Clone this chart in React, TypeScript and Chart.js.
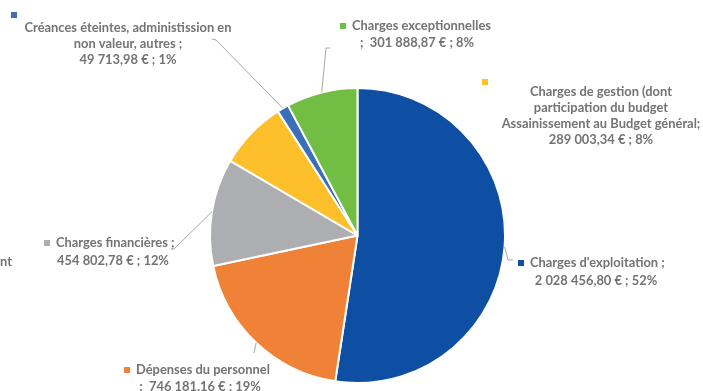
import React, { useEffect, useRef } from "react";
import { Chart, registerables } from "chart.js";

Chart.register(...registerables);

const categories = [
  "Charges d'exploitation",
  "Dépenses du personnel",
  "Charges financières",
  "Charges de gestion",
  "Créances éteintes",
  "Charges exceptionnelles",
];
const values = [2028456.8, 746181.16, 454802.78, 289003.34, 49713.98, 301888.87];
const colors = ["#0E4FA3", "#F08237", "#ADAEB2", "#FDBF2A", "#3B6FB8", "#72BE44"];

const labelLines: string[][] = [
  ["Charges d'exploitation ;", "2 028 456,80 € ; 52%"],
  ["Dépenses du personnel", ";  746 181.16 € ; 19%"],
  ["Charges financières ;", "454 802,78 € ; 12%"],
  ["Charges de gestion (dont", "participation du budget", "Assainissement au Budget général;", "289 003,34 € ; 8%"],
  ["Créances éteintes, administission en", "non valeur, autres ;", "49 713,98 € ; 1%"],
  ["Charges exceptionnelles", ";  301 888,87 € ; 8%"],
];

// label box layout: keyX = left of inline key (first line), cx = centre of other lines
const labelLayout: any[] = [
  { keyX: 518, cx: 596, y: 263, lh: 18, leader: [[508, 260], [513, 260]] },
  { keyX: 124, cx: 200, y: 370, lh: 17, leader: [[254, 353]] },
  { keyX: 44, cx: 113, y: 243, lh: 18, leader: [[174, 249], [171, 249]] },
  { cx: 601, y: 92, lh: 16, key: [485, 82], leader: [] },
  { cx: 128, y: 28, lh: 16, key: [14, 15], leader: [[216, 40], [212, 39]] },
  { keyX: 340, cx: 417, y: 26, lh: 17, leader: [[326, 48], [330, 48]] },
];

const FONT = "bold 12.9px Lato, 'Open Sans', sans-serif";
const TEXT_COLOR = "#737373";

const labelPlugin = {
  id: "labels",
  afterDraw(chart: any) {
    const ctx = chart.ctx;
    const meta = chart.getDatasetMeta(0);
    ctx.save();
    ctx.font = FONT;
    ctx.textBaseline = "middle";
    meta.data.forEach((arc: any, i: number) => {
      const lay = labelLayout[i];
      const { x, y, startAngle, endAngle, outerRadius } = arc.getProps(
        ["x", "y", "startAngle", "endAngle", "outerRadius"],
        true
      );
      const mid = (startAngle + endAngle) / 2;
      const ax = x + Math.cos(mid) * outerRadius;
      const ay = y + Math.sin(mid) * outerRadius;
      if (lay.leader.length) {
        ctx.strokeStyle = "#A6A6A6";
        ctx.lineWidth = 1;
        ctx.beginPath();
        ctx.moveTo(ax, ay);
        lay.leader.forEach((p: number[]) => ctx.lineTo(p[0], p[1]));
        ctx.stroke();
      }
      labelLines[i].forEach((t, li) => {
        const ly = lay.y + li * lay.lh;
        ctx.fillStyle = TEXT_COLOR;
        if (li === 0 && lay.keyX !== undefined) {
          ctx.fillStyle = colors[i];
          ctx.fillRect(lay.keyX, ly - 3, 6, 6);
          ctx.fillStyle = TEXT_COLOR;
          ctx.textAlign = "left";
          ctx.fillText(t, lay.keyX + 12, ly);
        } else {
          ctx.textAlign = "center";
          ctx.fillText(t, lay.cx, ly);
        }
      });
      if (lay.key) {
        ctx.fillStyle = colors[i];
        ctx.fillRect(lay.key[0] - 3, lay.key[1] - 3, 6, 6);
      }
    });
    // cut-off label at the left edge
    ctx.fillStyle = TEXT_COLOR;
    ctx.textAlign = "left";
    ctx.fillText("nt", 0, 262);
    ctx.restore();
  },
};

export default function App() {
  const ref = useRef<HTMLCanvasElement>(null);
  useEffect(() => {
    const chart = new Chart(ref.current!, {
      type: "pie",
      data: {
        labels: categories,
        datasets: [
          {
            data: values,
            backgroundColor: colors,
            borderColor: "#FFFFFF",
            borderWidth: 2,
          },
        ],
      },
      options: {
        responsive: false,
        animation: false,
        radius: 147.5,
        layout: { padding: { left: 209, right: 197, top: 87, bottom: 7 } },
        plugins: { legend: { display: false }, tooltip: { enabled: false } },
      } as any,
      plugins: [labelPlugin],
    });
    return () => chart.destroy();
  }, []);
  return (
    <div style={{ position: "absolute", left: 0, top: 0, width: 703, height: 391, background: "#fff" }}>
      <canvas ref={ref} width={703} height={391} />
    </div>
  );
}
